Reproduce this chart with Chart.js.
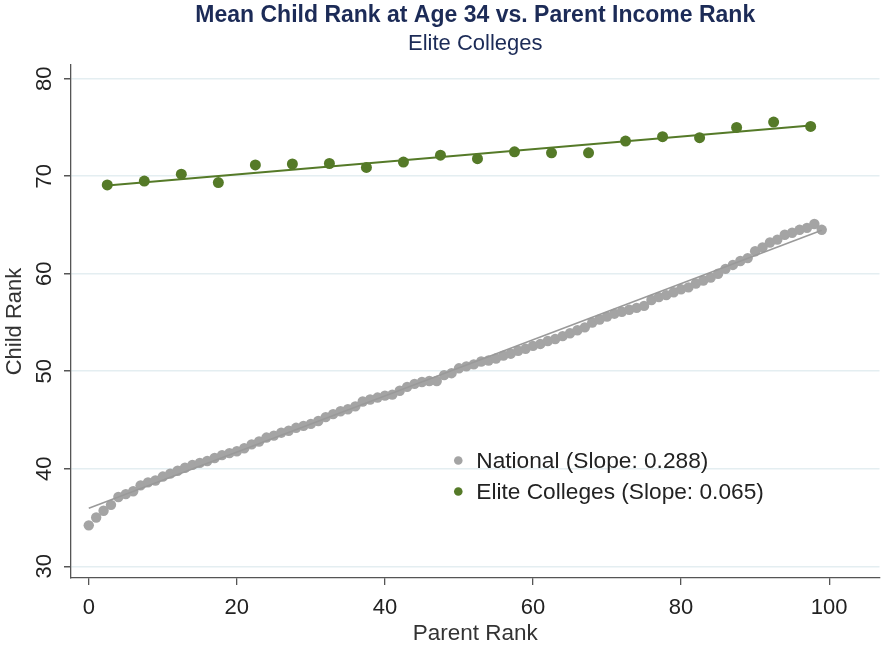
<!DOCTYPE html>
<html>
<head>
<meta charset="utf-8">
<script src="https://cdn.jsdelivr.net/npm/chart.js@4.4.1/dist/chart.umd.min.js"></script>
<style>
  body { margin: 0; background: #fff; }
  #wrap { width: 885px; height: 648px; }
</style>
</head>
<body>
<div id="wrap"><canvas id="myChart" width="885" height="648"></canvas></div>
<script>
// values
// national: mean child rank for parent rank 0..99
var nationalRank = [
  34.2, 35.0, 35.7, 36.3, 37.1, 37.4, 37.7, 38.3, 38.6, 38.8,
  39.2, 39.5, 39.8, 40.1, 40.4, 40.6, 40.8, 41.1, 41.4, 41.6,
  41.8, 42.1, 42.5, 42.8, 43.2, 43.4, 43.7, 43.9, 44.2, 44.4,
  44.6, 44.9, 45.3, 45.6, 45.9, 46.1, 46.4, 46.9, 47.1, 47.3,
  47.5, 47.6, 48.0, 48.4, 48.7, 48.9, 49.0, 49.0, 49.6, 49.8,
  50.3, 50.5, 50.7, 51.0, 51.1, 51.3, 51.6, 51.8, 52.1, 52.3,
  52.6, 52.8, 53.1, 53.3, 53.6, 53.9, 54.2, 54.5, 55.0, 55.3,
  55.6, 55.9, 56.1, 56.3, 56.5, 56.7, 57.3, 57.6, 57.8, 58.1,
  58.4, 58.6, 59.0, 59.3, 59.6, 60.0, 60.5, 60.9, 61.3, 61.6,
  62.3, 62.7, 63.2, 63.5, 64.0, 64.2, 64.5, 64.7, 65.1, 64.5
]
var eliteX = [2.5, 7.5, 12.5, 17.5, 22.5, 27.5, 32.5, 37.5, 42.5, 47.5,
  52.5, 57.5, 62.5, 67.5, 72.5, 77.5, 82.5, 87.5, 92.5, 97.5]
var eliteRank = [69.1, 69.5, 70.2, 69.35, 71.15, 71.25, 71.3, 70.9, 71.45, 72.15,
  71.8, 72.5, 72.4, 72.4, 73.6, 74.05, 73.95, 75.0, 75.55, 75.1]

// fitted lines (end points)
var nationalFitX = [0, 99]
var nationalFitY = [35.95, 64.45]
var eliteFitX = [2.5, 97.5]
var eliteFitY = [69.05, 75.2]

var xTicks = [0, 20, 40, 60, 80, 100]
var yTicks = [30, 40, 50, 60, 70, 80]
var legendLabels = ['National (Slope: 0.288)', 'Elite Colleges (Slope: 0.065)']

var FONT = "'Liberation Sans', Arial, sans-serif"
var GRAY = '#a4a4a4'
var GREEN = '#557a28'
var NAVY = '#1c2b57'

function toPoints(xs, ys) {
    return xs.map(function (x, i) { return { x: x, y: ys[i] } })
}

// legend drawn inside the plot, like the original
var insideLegend = {
    id: 'insideLegend',
    afterDatasetsDraw: function (chart) {
        let ctx = chart.ctx
        let a = chart.chartArea
        let x0 = a.left + 0.479 * (a.right - a.left)
        let y0 = a.top + 0.771 * (a.bottom - a.top)
        let cols = [GRAY, GREEN]
        ctx.save()
        ctx.font = '22.7px ' + FONT
        ctx.textBaseline = 'middle'
        ctx.textAlign = 'left'
        for (let i = 0; i < legendLabels.length; i++) {
            let y = y0 + i * 31
            ctx.fillStyle = cols[i]
            ctx.beginPath()
            ctx.arc(x0, y, 4.3, 0, Math.PI * 2)
            ctx.fill()
            ctx.fillStyle = '#222'
            ctx.fillText(legendLabels[i], x0 + 18, y + 1)
        }
        ctx.restore()
    }
}

let ctx = document.getElementById('myChart').getContext('2d')
let myChart = new Chart(ctx, {
    type: 'scatter',
    data: {
        datasets: [{
            type: 'line',
            label: 'Elite fit',
            data: toPoints(eliteFitX, eliteFitY),
            borderColor: GREEN,
            borderWidth: 2,
            pointRadius: 0,
            fill: false
        }, {
            type: 'line',
            label: 'National fit',
            data: toPoints(nationalFitX, nationalFitY),
            borderColor: '#9a9a9a',
            borderWidth: 1.6,
            pointRadius: 0,
            fill: false
        }, {
            label: legendLabels[1],
            data: toPoints(eliteX, eliteRank),
            backgroundColor: GREEN,
            borderWidth: 0,
            pointRadius: 5.5
        }, {
            label: legendLabels[0],
            data: nationalRank.map(function (v, i) { return { x: i, y: v } }),
            backgroundColor: GRAY,
            borderWidth: 0,
            pointRadius: 5.2
        }]
    },
    options: {
        responsive: false,
        animation: false,
        layout: { padding: { left: 0, right: 3, top: 0, bottom: 0 } },
        plugins: {
            legend: { display: false },
            tooltip: { enabled: false },
            title: {
                display: true,
                fullSize: false,
                text: 'Mean Child Rank at Age 34 vs. Parent Income Rank',
                color: NAVY,
                font: { family: FONT, size: 23, weight: 'bold' },
                padding: { top: 2, bottom: 1 }
            },
            subtitle: {
                display: true,
                fullSize: false,
                text: 'Elite Colleges',
                color: NAVY,
                font: { family: FONT, size: 22, weight: 'normal' },
                padding: { top: 0, bottom: 8 }
            }
        },
        scales: {
            x: {
                type: 'linear',
                min: -2.4,
                max: 106.8,
                afterBuildTicks: function (s) { s.ticks = xTicks.map(function (v) { return { value: v } }) },
                afterFit: function (s) { s.height = 70 },
                border: { color: '#555', width: 1.3 },
                grid: { drawOnChartArea: false, tickColor: '#555', tickLength: 7, lineWidth: 1.3 },
                ticks: { color: '#222', font: { family: FONT, size: 22 }, padding: 10, autoSkip: false, maxRotation: 0 },
                title: {
                    display: true, text: 'Parent Rank', color: '#333',
                    font: { family: FONT, size: 22.5 }, padding: { top: 0, bottom: 1 }
                }
            },
            y: {
                min: 28.8,
                max: 81.4,
                afterBuildTicks: function (s) { s.ticks = yTicks.map(function (v) { return { value: v } }) },
                afterFit: function (s) { s.width = 71 },
                border: { color: '#555', width: 1.3 },
                grid: { color: '#e4eef1', lineWidth: 1.5, tickColor: '#555', tickLength: 7 },
                ticks: {
                    color: '#222', font: { family: FONT, size: 22 }, padding: 7,
                    minRotation: 90, maxRotation: 90, crossAlign: 'center', autoSkip: false
                },
                title: {
                    display: true, text: 'Child Rank', color: '#333',
                    font: { family: FONT, size: 22 }, padding: { top: 2, bottom: 0 }
                }
            }
        }
    },
    plugins: [insideLegend]
})
</script>
</body>
</html>
